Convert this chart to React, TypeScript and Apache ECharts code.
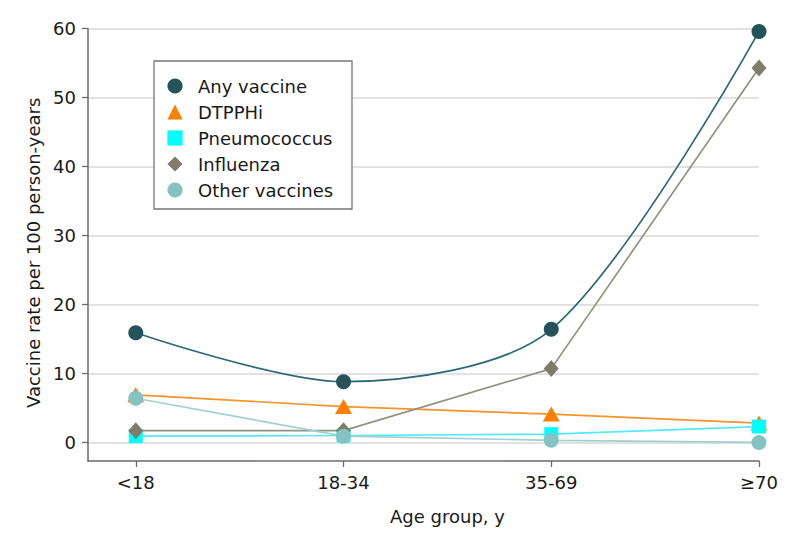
import React, { useEffect, useRef } from "react";
import * as echarts from "echarts";

const categories = ["<18", "18-34", "35-69", "≥70"];
const anyVaccine = [15.9, 8.8, 16.4, 59.6];
const dtpphi = [6.9, 5.2, 4.1, 2.8];
const pneumococcus = [0.9, 1.0, 1.2, 2.3];
const influenza = [1.7, 1.7, 10.7, 54.3];
const otherVaccines = [6.4, 0.9, 0.3, 0.0];
const yTicks = [0, 10, 20, 30, 40, 50, 60];
const xTicks = [0, 1, 2, 3];

const FONT = "DejaVu Sans";

const toPairs = (arr: number[]) => arr.map((v, i) => [i, v]);

export default function App() {
  const ref = useRef<HTMLDivElement>(null);
  useEffect(() => {
    document.body.style.margin = "0";
    if (!ref.current) return;
    const chart = echarts.init(ref.current, null, { renderer: "svg" });
    const mk = (
      name: string,
      data: number[],
      symbol: string,
      symbolSize: any,
      markerColor: string,
      lineColor: string,
      z: number,
      smooth: number | false
    ) => ({
      name,
      type: "line",
      data: toPairs(data),
      symbol,
      symbolSize,
      smooth,
      z,
      itemStyle: { color: markerColor },
      lineStyle: { color: lineColor, width: 1.7 },
      emphasis: { disabled: true },
    });
    chart.setOption({
      animation: false,
      textStyle: { fontFamily: FONT },
      grid: { left: 88, right: 35, top: 28.7, bottom: 85 },
      graphic: [
        {
          type: "rect",
          shape: { x: 154, y: 61, width: 198, height: 148 },
          style: { fill: "#fff", stroke: "#777", lineWidth: 1.3 },
          z: 10,
        },
      ],
      legend: {
        orient: "vertical",
        left: 157,
        top: 76.5,
        padding: 0,
        itemWidth: 36,
        itemHeight: 19,
        itemGap: 7,
        z: 20,
        lineStyle: { width: 0, opacity: 0 },
        textStyle: { fontFamily: FONT, fontSize: 18, color: "#1a1a1a", lineHeight: 19 },
        data: ["Any vaccine", "DTPPHi", "Pneumococcus", "Influenza", "Other vaccines"],
      },
      xAxis: {
        type: "value",
        min: -0.23,
        max: 3,
        name: "Age group, y",
        nameLocation: "middle",
        nameGap: 46,
        nameTextStyle: { fontFamily: FONT, fontSize: 18, color: "#1a1a1a", padding: [0, 0, 0, 48] },
        axisLine: { show: true, onZero: false, lineStyle: { color: "#6b6b6b", width: 1.5 } },
        axisTick: { show: true, length: 6, customValues: xTicks, lineStyle: { color: "#6b6b6b", width: 1.3 } },
        axisLabel: {
          customValues: xTicks,
          margin: 12,
          fontFamily: FONT,
          fontSize: 18,
          color: "#1a1a1a",
          formatter: (v: number) => categories[Math.round(v)] ?? "",
        },
        splitLine: { show: false },
      },
      yAxis: {
        type: "value",
        min: -2.7,
        max: 60,
        name: "Vaccine rate per 100 person-years",
        nameLocation: "middle",
        nameGap: 46,
        nameTextStyle: { fontFamily: FONT, fontSize: 18, color: "#1a1a1a", padding: [0, 16, 0, 0] },
        axisLine: { show: true, onZero: false, lineStyle: { color: "#6b6b6b", width: 1.5 } },
        axisTick: { show: true, length: 6, customValues: yTicks, lineStyle: { color: "#6b6b6b", width: 1.3 } },
        axisLabel: {
          customValues: yTicks,
          margin: 12,
          fontFamily: FONT,
          fontSize: 18,
          color: "#1a1a1a",
        },
        splitLine: { show: true, lineStyle: { color: "#d9d9d9", width: 1.5 } },
      },
      series: [
        mk("Any vaccine", anyVaccine, "circle", 15, "#24545a", "#2a6877", 6, 0.3),
        mk("DTPPHi", dtpphi, "triangle", [17, 15], "#ff7f00", "#f8932a", 2, false),
        mk("Pneumococcus", pneumococcus, "rect", 14, "#00ffff", "#55eaf7", 3, false),
        mk("Influenza", influenza, "diamond", [15, 17], "#7d7d68", "#909383", 4, false),
        mk("Other vaccines", otherVaccines, "circle", 15, "#85c3c3", "#9fd0d2", 5, false),
      ],
    });
    return () => chart.dispose();
  }, []);
  return <div ref={ref} style={{ width: 794, height: 546 }} />;
}
